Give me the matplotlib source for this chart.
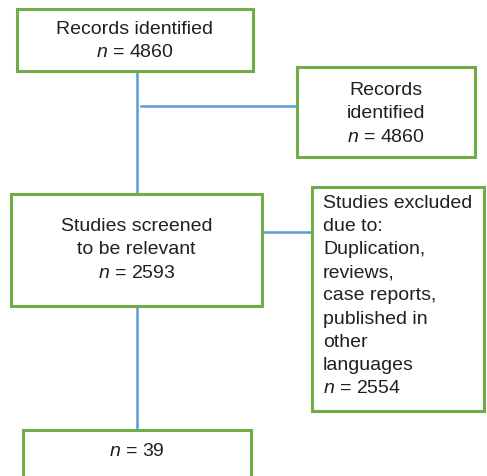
import matplotlib.pyplot as plt
from matplotlib.patches import Rectangle

# box texts
box_texts = [
    "Records identified\n$\\it{n}$ = 4860",
    "Records\nidentified\n$\\it{n}$ = 4860",
    "Studies screened\nto be relevant\n$\\it{n}$ = 2593",
    "Studies excluded\ndue to:\nDuplication,\nreviews,\ncase reports,\npublished in\nother\nlanguages\n$\\it{n}$ = 2554",
    "$\\it{n}$ = 39",
]

# layout (pixels): x0, y0, x1, y1
boxes = [
    (17, 9, 253, 71),
    (297, 67, 475, 157),
    (11, 194, 262, 306),
    (312, 187, 484, 411),
    (23, 430, 251, 490),
]
align = ["center", "center", "center", "left", "center"]
text_y = [41, 114, 250, 296, 452]

green = "#70ad47"
blue = "#5b9bd5"

plt.rcParams['font.family'] = ['Liberation Sans', 'DejaVu Sans']
plt.rcParams['mathtext.fontset'] = 'custom'
plt.rcParams['mathtext.it'] = 'Liberation Sans:italic'
plt.rcParams['mathtext.rm'] = 'Liberation Sans'

fig = plt.figure(figsize=(4.87, 4.76), dpi=100)
ax = fig.add_axes([0, 0, 1, 1])
ax.set_xlim(0, 487)
ax.set_ylim(476, 0)
ax.axis('off')

# connectors
ax.plot([137, 137], [71, 194], color=blue, lw=1.8, zorder=1)
ax.plot([141, 297], [106, 106], color=blue, lw=1.8, zorder=1)
ax.plot([262, 312], [232, 232], color=blue, lw=1.8, zorder=1)
ax.plot([137, 137], [306, 430], color=blue, lw=1.8, zorder=1)

for (x0, y0, x1, y1), t, a, ty in zip(boxes, box_texts, align, text_y):
    ax.add_patch(Rectangle((x0, y0), x1 - x0, y1 - y0, fill=True, facecolor='white',
                           edgecolor=green, lw=2.2, zorder=2, clip_on=False))
    tx = (x0 + x1) / 2 if a == "center" else x0 + 11
    ax.text(tx, ty, t, ha=a, va='center', fontsize=14, color='#231f20',
            linespacing=1.47, multialignment=a, zorder=3)

fig.savefig('out.png', dpi=100)
